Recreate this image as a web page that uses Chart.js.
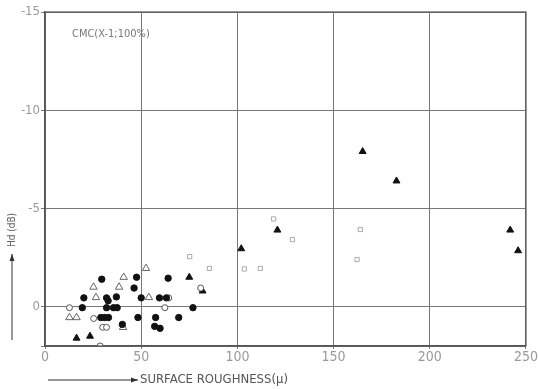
<!DOCTYPE html>
<html>
<head>
<meta charset="utf-8">
<script src="https://cdn.jsdelivr.net/npm/chart.js@4"></script>
<style>
  html, body { margin: 0; padding: 0; background: #fff; }
  #wrap { width: 538px; height: 389px; }
</style>
</head>
<body>
<div id="wrap"><canvas id="chart"></canvas></div>
<script>
// values (x = roughness, y = Hd in dB)
const filledCircleX = [29.5, 20.2, 19.4, 32, 32.8, 37.1, 32, 35.6, 37.5, 47.6, 46.3, 50, 59.5, 63.1, 64, 76.9, 48.3, 57.5, 57, 59.8, 69.5, 40.2, 29, 31, 33];
const filledCircleY = [-1.4, -0.45, 0.05, -0.45, -0.3, -0.5, 0.05, 0.05, 0.05, -1.5, -0.95, -0.45, -0.45, -0.45, -1.45, 0.05, 0.55, 0.55, 1.0, 1.1, 0.55, 0.9, 0.55, 0.55, 0.55];
const openCircleX = [12.7, 62.3, 28.7, 30, 32, 64.3, 25.3, 80.9];
const openCircleY = [0.05, 0.05, 2.0, 1.05, 1.05, -0.45, 0.6, -0.95];
const openTriangleX = [12.7, 16.4, 25.2, 26.5, 38.5, 40.9, 54, 52.5, 40.6];
const openTriangleY = [0.55, 0.55, -1.0, -0.47, -1.0, -1.5, -0.47, -1.95, 1.05];
const filledTriangleX = [16.4, 23.4, 75, 81.9, 102, 120.8, 165.1, 182.7, 241.8, 245.9];
const filledTriangleY = [1.6, 1.5, -1.5, -0.8, -2.95, -3.9, -7.9, -6.4, -3.9, -2.85];
const greySquareX = [75.2, 85.5, 103.6, 111.9, 118.8, 128.6, 163.9, 162.2];
const greySquareY = [-2.55, -1.95, -1.92, -1.95, -4.47, -3.42, -3.93, -2.4];

const xTicks = [0, 50, 100, 150, 200, 250];
const yTicks = [-15, -10, -5, 0];
const xTitle = 'SURFACE ROUGHNESS(\u03bc)';
const yTitle = 'Hd (dB)';
const noteText = 'CMC(X-1;100%)';

const FONT = '"DejaVu Sans Condensed", "Liberation Sans Narrow", "DejaVu Sans", sans-serif';

function toPoints(xs, ys) {
    let pts = [];
    for (let i = 0; i < xs.length; i++) {
        pts.push({ x: xs[i], y: ys[i] });
    }
    return pts;
}

function arrow(ctx, x1, y1, x2, y2) {
    let a = Math.atan2(y2 - y1, x2 - x1);
    ctx.beginPath();
    ctx.moveTo(x1, y1);
    ctx.lineTo(x2, y2);
    ctx.stroke();
    ctx.beginPath();
    ctx.moveTo(x2, y2);
    ctx.lineTo(x2 - 7 * Math.cos(a) + 2.5 * Math.sin(a), y2 - 7 * Math.sin(a) - 2.5 * Math.cos(a));
    ctx.lineTo(x2 - 7 * Math.cos(a) - 2.5 * Math.sin(a), y2 - 7 * Math.sin(a) + 2.5 * Math.cos(a));
    ctx.closePath();
    ctx.fill();
}

const decorPlugin = {
    id: 'decor',
    afterDraw(chart) {
        let ctx = chart.ctx;
        let area = chart.chartArea;
        ctx.save();
        ctx.strokeStyle = '#555';
        ctx.lineWidth = 1.2;
        ctx.strokeRect(area.left, area.top, area.right - area.left, area.bottom - area.top);

        ctx.fillStyle = '#777';
        ctx.font = '11px ' + FONT;
        ctx.textBaseline = 'middle';
        ctx.textAlign = 'left';
        ctx.fillText(noteText, area.left + 27, 34);

        // x title with arrow
        ctx.strokeStyle = '#333';
        ctx.fillStyle = '#333';
        ctx.lineWidth = 1;
        arrow(ctx, 48, 380, 138, 380);
        ctx.fillStyle = '#555';
        ctx.font = '13px ' + FONT;
        ctx.fillText(xTitle, 140, 380);

        // y title with arrow
        ctx.fillStyle = '#333';
        arrow(ctx, 12, 340, 12, 254);
        ctx.translate(12, 230);
        ctx.rotate(-Math.PI / 2);
        ctx.textAlign = 'center';
        ctx.fillStyle = '#666';
        ctx.font = '10px ' + FONT;
        ctx.fillText(yTitle, 0, 0);
        ctx.restore();
    }
};

const ctx = document.getElementById('chart');
new Chart(ctx, {
    type: 'scatter',
    data: {
        datasets: [
            { label: 'filled circle', data: toPoints(filledCircleX, filledCircleY), pointStyle: 'circle', pointRadius: 3.2, backgroundColor: '#111', borderColor: '#111', borderWidth: 1 },
            { label: 'open circle', data: toPoints(openCircleX, openCircleY), pointStyle: 'circle', pointRadius: 3, backgroundColor: '#fff', borderColor: '#555', borderWidth: 1 },
            { label: 'open triangle', data: toPoints(openTriangleX, openTriangleY), pointStyle: 'triangle', pointRadius: 4.3, backgroundColor: '#fff', borderColor: '#666', borderWidth: 1 },
            { label: 'filled triangle', data: toPoints(filledTriangleX, filledTriangleY), pointStyle: 'triangle', pointRadius: 4, backgroundColor: '#111', borderColor: '#111', borderWidth: 1 },
            { label: 'grey square', data: toPoints(greySquareX, greySquareY), pointStyle: 'rect', pointRadius: 3, backgroundColor: '#fff', borderColor: '#aaa', borderWidth: 1 }
        ]
    },
    options: {
        responsive: true,
        maintainAspectRatio: false,
        animation: false,
        layout: { padding: { top: 12, right: 9, left: 0, bottom: 0 } },
        plugins: {
            legend: { display: false },
            tooltip: { enabled: false }
        },
        scales: {
            x: {
                type: 'linear',
                min: 0,
                max: 250,
                afterFit(scale) { scale.height = 43; },
                afterBuildTicks(scale) { scale.ticks = xTicks.map(v => ({ value: v })); },
                grid: { color: '#777', lineWidth: 1, tickLength: 3, drawTicks: true },
                border: { color: '#555', width: 1.2 },
                ticks: {
                    color: '#999',
                    padding: 0,
                    maxRotation: 0,
                    font: { family: FONT, size: 14 }
                }
            },
            y: {
                type: 'linear',
                reverse: true,
                min: -15,
                max: 2,
                afterFit(scale) { scale.width = 45; },
                afterBuildTicks(scale) { scale.ticks = yTicks.concat([2]).map(v => ({ value: v })); },
                grid: { color: '#777', lineWidth: 1, tickLength: 4 },
                border: { color: '#555', width: 1.2 },
                ticks: {
                    color: '#999',
                    padding: 1,
                    font: { family: FONT, size: 13 },
                    callback: function(v) { return yTicks.indexOf(v) >= 0 ? String(v) : ''; }
                }
            }
        }
    },
    plugins: [decorPlugin]
});
</script>
</body>
</html>
